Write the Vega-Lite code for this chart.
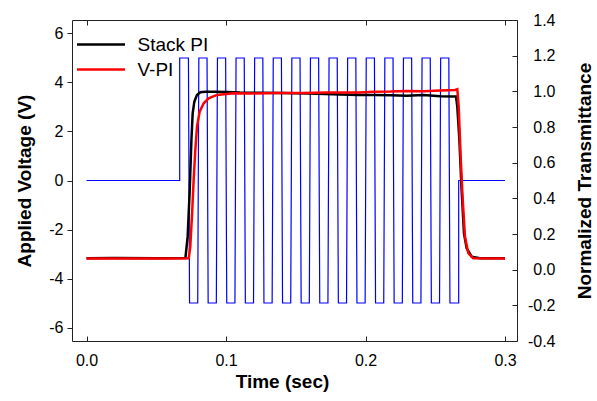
{
  "$schema": "https://vega.github.io/schema/vega-lite/v6.json",
  "width": 445,
  "height": 321,
  "autosize": {"type": "none"},
  "padding": {"left": 72, "top": 20, "right": 80, "bottom": 60},
  "background": "white",
  "config": {
    "font": "Liberation Sans",
    "locale": {"number": {"decimal": ".", "thousands": ",", "grouping": [3], "currency": ["$", ""], "minus": "-"}},
    "view": {"stroke": "#222", "strokeWidth": 1},
    "axis": {"domain": false, "grid": false, "labelFont": "Liberation Sans", "labelFontSize": 16, "labelColor": "#000", "titleFont": "Liberation Sans", "titleFontSize": 19, "titleFontWeight": "bold", "titleColor": "#000", "tickColor": "#222", "tickWidth": 1}
  },
  "datasets": {
    "wave": [
      {"i": 0, "t": 0, "v": 0},
      {"i": 1, "t": 0.0668, "v": 0},
      {"i": 2, "t": 0.0668, "v": 5},
      {"i": 3, "t": 0.07307, "v": 5},
      {"i": 4, "t": 0.07387, "v": -5},
      {"i": 5, "t": 0.07973, "v": -5},
      {"i": 6, "t": 0.08053, "v": 5},
      {"i": 7, "t": 0.0864, "v": 5},
      {"i": 8, "t": 0.0872, "v": -5},
      {"i": 9, "t": 0.09307, "v": -5},
      {"i": 10, "t": 0.09387, "v": 5},
      {"i": 11, "t": 0.09973, "v": 5},
      {"i": 12, "t": 0.10053, "v": -5},
      {"i": 13, "t": 0.1064, "v": -5},
      {"i": 14, "t": 0.1072, "v": 5},
      {"i": 15, "t": 0.11307, "v": 5},
      {"i": 16, "t": 0.11387, "v": -5},
      {"i": 17, "t": 0.11973, "v": -5},
      {"i": 18, "t": 0.12053, "v": 5},
      {"i": 19, "t": 0.1264, "v": 5},
      {"i": 20, "t": 0.1272, "v": -5},
      {"i": 21, "t": 0.13307, "v": -5},
      {"i": 22, "t": 0.13387, "v": 5},
      {"i": 23, "t": 0.13973, "v": 5},
      {"i": 24, "t": 0.14053, "v": -5},
      {"i": 25, "t": 0.1464, "v": -5},
      {"i": 26, "t": 0.1472, "v": 5},
      {"i": 27, "t": 0.15307, "v": 5},
      {"i": 28, "t": 0.15387, "v": -5},
      {"i": 29, "t": 0.15973, "v": -5},
      {"i": 30, "t": 0.16053, "v": 5},
      {"i": 31, "t": 0.1664, "v": 5},
      {"i": 32, "t": 0.1672, "v": -5},
      {"i": 33, "t": 0.17307, "v": -5},
      {"i": 34, "t": 0.17387, "v": 5},
      {"i": 35, "t": 0.17973, "v": 5},
      {"i": 36, "t": 0.18053, "v": -5},
      {"i": 37, "t": 0.1864, "v": -5},
      {"i": 38, "t": 0.1872, "v": 5},
      {"i": 39, "t": 0.19307, "v": 5},
      {"i": 40, "t": 0.19387, "v": -5},
      {"i": 41, "t": 0.19973, "v": -5},
      {"i": 42, "t": 0.20053, "v": 5},
      {"i": 43, "t": 0.2064, "v": 5},
      {"i": 44, "t": 0.2072, "v": -5},
      {"i": 45, "t": 0.21307, "v": -5},
      {"i": 46, "t": 0.21387, "v": 5},
      {"i": 47, "t": 0.21973, "v": 5},
      {"i": 48, "t": 0.22053, "v": -5},
      {"i": 49, "t": 0.2264, "v": -5},
      {"i": 50, "t": 0.2272, "v": 5},
      {"i": 51, "t": 0.23307, "v": 5},
      {"i": 52, "t": 0.23387, "v": -5},
      {"i": 53, "t": 0.23973, "v": -5},
      {"i": 54, "t": 0.24053, "v": 5},
      {"i": 55, "t": 0.2464, "v": 5},
      {"i": 56, "t": 0.2472, "v": -5},
      {"i": 57, "t": 0.25307, "v": -5},
      {"i": 58, "t": 0.25387, "v": 5},
      {"i": 59, "t": 0.25973, "v": 5},
      {"i": 60, "t": 0.26053, "v": -5},
      {"i": 61, "t": 0.2668, "v": -5},
      {"i": 62, "t": 0.2668, "v": 0},
      {"i": 63, "t": 0.3, "v": 0}
    ],
    "trans": [
      {"s": "Stack PI", "t": 0, "T": 0.064},
      {"s": "Stack PI", "t": 0.02, "T": 0.065},
      {"s": "Stack PI", "t": 0.05, "T": 0.064},
      {"s": "Stack PI", "t": 0.0709, "T": 0.065},
      {"s": "Stack PI", "t": 0.0725, "T": 0.185},
      {"s": "Stack PI", "t": 0.074, "T": 0.447},
      {"s": "Stack PI", "t": 0.0752, "T": 0.727},
      {"s": "Stack PI", "t": 0.0761, "T": 0.877},
      {"s": "Stack PI", "t": 0.0773, "T": 0.942},
      {"s": "Stack PI", "t": 0.0792, "T": 0.98},
      {"s": "Stack PI", "t": 0.0816, "T": 0.995},
      {"s": "Stack PI", "t": 0.0852, "T": 0.998},
      {"s": "Stack PI", "t": 0.092, "T": 0.997},
      {"s": "Stack PI", "t": 0.1007, "T": 0.996},
      {"s": "Stack PI", "t": 0.11, "T": 0.993},
      {"s": "Stack PI", "t": 0.1245, "T": 0.992},
      {"s": "Stack PI", "t": 0.14, "T": 0.99},
      {"s": "Stack PI", "t": 0.16, "T": 0.988},
      {"s": "Stack PI", "t": 0.1818, "T": 0.982},
      {"s": "Stack PI", "t": 0.195, "T": 0.98},
      {"s": "Stack PI", "t": 0.2057, "T": 0.979},
      {"s": "Stack PI", "t": 0.218, "T": 0.978},
      {"s": "Stack PI", "t": 0.2296, "T": 0.975},
      {"s": "Stack PI", "t": 0.2415, "T": 0.979},
      {"s": "Stack PI", "t": 0.2534, "T": 0.972},
      {"s": "Stack PI", "t": 0.2649, "T": 0.971},
      {"s": "Stack PI", "t": 0.2658, "T": 0.914},
      {"s": "Stack PI", "t": 0.2673, "T": 0.727},
      {"s": "Stack PI", "t": 0.2689, "T": 0.447},
      {"s": "Stack PI", "t": 0.2706, "T": 0.204},
      {"s": "Stack PI", "t": 0.2725, "T": 0.12},
      {"s": "Stack PI", "t": 0.2761, "T": 0.073},
      {"s": "Stack PI", "t": 0.282, "T": 0.064},
      {"s": "Stack PI", "t": 0.3, "T": 0.064},
      {"s": "V-PI", "t": 0, "T": 0.062},
      {"s": "V-PI", "t": 0.03, "T": 0.063},
      {"s": "V-PI", "t": 0.06, "T": 0.062},
      {"s": "V-PI", "t": 0.0733, "T": 0.064},
      {"s": "V-PI", "t": 0.0744, "T": 0.129},
      {"s": "V-PI", "t": 0.0757, "T": 0.316},
      {"s": "V-PI", "t": 0.0768, "T": 0.503},
      {"s": "V-PI", "t": 0.078, "T": 0.671},
      {"s": "V-PI", "t": 0.0792, "T": 0.802},
      {"s": "V-PI", "t": 0.0811, "T": 0.886},
      {"s": "V-PI", "t": 0.084, "T": 0.933},
      {"s": "V-PI", "t": 0.0875, "T": 0.961},
      {"s": "V-PI", "t": 0.0935, "T": 0.98},
      {"s": "V-PI", "t": 0.1054, "T": 0.989},
      {"s": "V-PI", "t": 0.12, "T": 0.988},
      {"s": "V-PI", "t": 0.1365, "T": 0.99},
      {"s": "V-PI", "t": 0.155, "T": 0.991},
      {"s": "V-PI", "t": 0.1723, "T": 0.993},
      {"s": "V-PI", "t": 0.196, "T": 0.994},
      {"s": "V-PI", "t": 0.2057, "T": 0.998},
      {"s": "V-PI", "t": 0.218, "T": 0.999},
      {"s": "V-PI", "t": 0.2296, "T": 1.002},
      {"s": "V-PI", "t": 0.242, "T": 1.001},
      {"s": "V-PI", "t": 0.2534, "T": 1.004},
      {"s": "V-PI", "t": 0.2641, "T": 1.008},
      {"s": "V-PI", "t": 0.2658, "T": 1.012},
      {"s": "V-PI", "t": 0.2668, "T": 0.914},
      {"s": "V-PI", "t": 0.2682, "T": 0.634},
      {"s": "V-PI", "t": 0.2697, "T": 0.391},
      {"s": "V-PI", "t": 0.2713, "T": 0.185},
      {"s": "V-PI", "t": 0.2737, "T": 0.092},
      {"s": "V-PI", "t": 0.2772, "T": 0.064},
      {"s": "V-PI", "t": 0.3, "T": 0.062}
    ]
  },
  "layer": [
    {
      "data": {"name": "wave"},
      "mark": {"type": "line", "color": "#0000ff", "strokeWidth": 1.2, "clip": true},
      "encoding": {
        "x": {"field": "t", "type": "quantitative", "scale": {"domain": [-0.0104, 0.3086], "nice": false, "zero": false},
          "axis": {"title": "Time (sec)", "orient": "bottom", "values": [0, 0.1, 0.2, 0.3], "format": ".1f", "tickSize": -5, "labelPadding": 16, "titlePadding": 4, "titleX": 210}},
        "y": {"field": "v", "type": "quantitative", "scale": {"domain": [-6.55, 6.55], "nice": false, "zero": false},
          "axis": {"title": "Applied Voltage (V)", "orient": "left", "values": [-6, -4, -2, 0, 2, 4, 6], "tickSize": 5, "labelPadding": 4, "titlePadding": 14}},
        "order": {"field": "i", "type": "quantitative"}
      }
    },
    {
      "data": {"name": "trans"},
      "mark": {"type": "line", "strokeWidth": 2.5, "clip": true},
      "encoding": {
        "x": {"field": "t", "type": "quantitative",
          "axis": {"orient": "top", "values": [0, 0.1, 0.2, 0.3], "labels": false, "title": null, "tickSize": -5}},
        "y": {"field": "T", "type": "quantitative", "scale": {"domain": [-0.4, 1.4], "nice": false, "zero": false},
          "axis": {"title": "Normalized Transmittance", "orient": "right", "values": [-0.4, -0.2, 0, 0.2, 0.4, 0.6, 0.8, 1.0, 1.2, 1.4], "format": ".1f", "tickSize": -5, "labelPadding": 43, "labelAlign": "right", "titleAngle": -90, "titleBaseline": "top", "titlePadding": 20}},
        "color": {"field": "s", "type": "nominal", "scale": {"domain": ["Stack PI", "V-PI"], "range": ["#000000", "#ff0000"]},
          "legend": {"orient": "none", "legendX": 19.5, "legendY": 15, "title": null, "padding": 0, "symbolType": "M-8,0H8", "symbolSize": 36, "symbolStrokeWidth": 2.5, "labelFont": "Liberation Sans", "labelFontSize": 19, "labelColor": "#000", "labelOffset": 27, "rowPadding": 5}}
      }
    }
  ],
  "resolve": {"scale": {"y": "independent"}, "axis": {"x": "independent"}}
}
